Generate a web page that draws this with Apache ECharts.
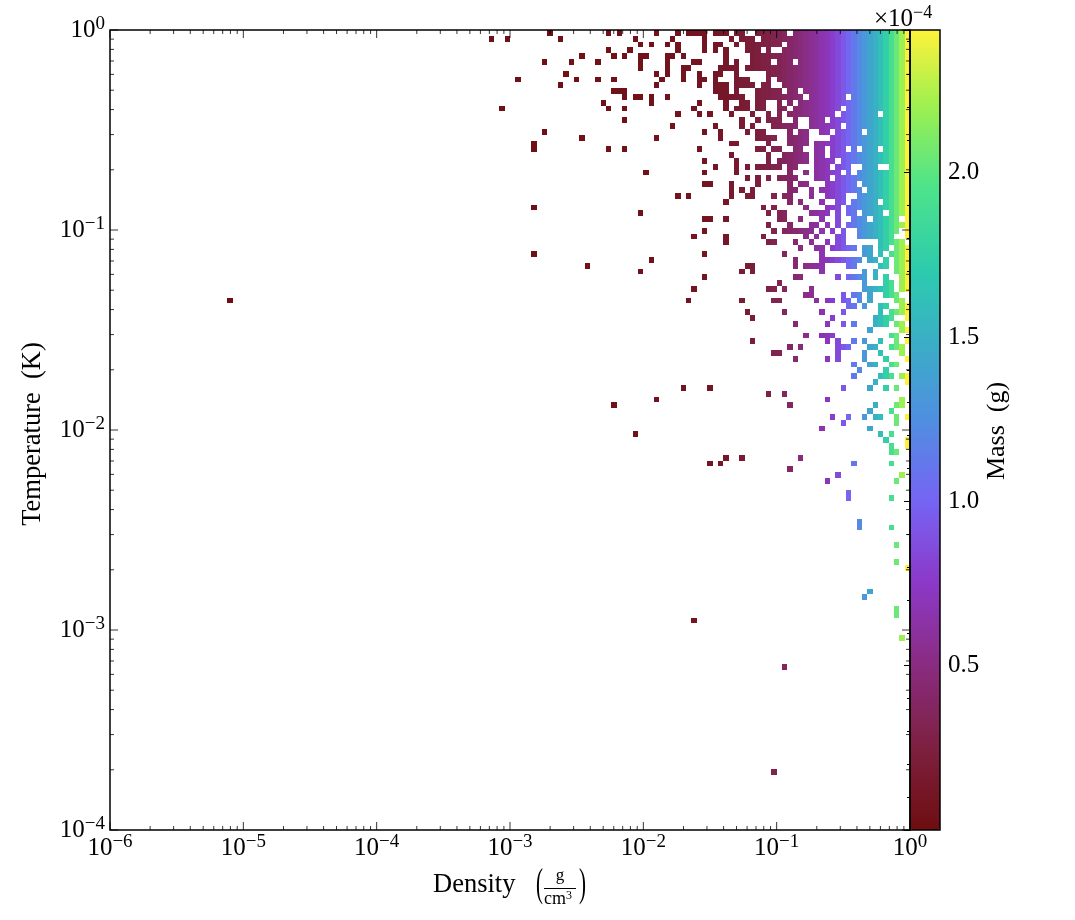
<!DOCTYPE html>
<html><head><meta charset="utf-8">
<style>html,body{margin:0;padding:0;background:#fff}#c{width:1075px;height:920px}</style>
<script src="https://cdn.jsdelivr.net/npm/echarts@6/dist/echarts.min.js"></script>
</head><body><div id="c"></div>
<script>
// Occupied density bins (column numbers) in each temperature bin (row 0 = top)
const occupiedByRow = [
"82 93 95 102 106 108-111 113-115 117-118 121-126 128-149",
"71 74 84 98 105 111 116 118-120 122-149",
"99 101 104 106 111 113-114 117 119-125 127-149",
"93 97 106 111 113 115 119-121 123 126-149",
"88 94 96 99-100 104-105 107 115 120-149",
"81 86 91 99 104 109-110 115 117 120-123 125-127 129-149",
"99 104 107-108 114-117 119-149",
"85 102 104 107 110 113-114 117 123-149",
"76 87 91 94 103 107 110-111 113 117-119 123 125-149",
"84 102 110 113-115 117-120 122-123 126-149",
"94-96 113-115 117 121-125 127-128 130-149",
"96 98-99 101 104 114-118 121-129 131-137 139-149",
"92 101 110 115 118-119 121-122 125 127 129-149",
"73 93 96 109 115 117-119 121-122 125-126 128-136 138-149",
"106 110 112 116 120 123 125 127-135 137-143 145-149",
"96 118 121 123-125 128 131-133 135-149",
"105 113 118 120 124-128 131-136 138-149",
"81 111 114 119 121-122 127 129-130 133-134 136-140 142-149",
"88 102 114 121-124 127-130 135-149",
"79 116-117 123 127-130 132-149",
"79 93 96 110 121-122 124-125 128-129 132-133 135-137 139 141-143 145-149",
"116 123 126-130 132-133 135-149",
"111 117 123 125-130 132-135 137-149",
"113 117 119 121-125 127-128 132-134 136-138 141-143 146-149",
"100 111 117 127 130 132-136 138 140-149",
"119 121 123 125-128 132-134 136-149",
"111-112 116 121 127 129-130 134-139 141-149",
"116 118 120 127-128 131 133-140 142-149",
"106 108 116 119-120 124 126-127 131 134-137 140-149",
"115 127 129 133 136-137 139-143 145-149",
"79 122 124 130 134-136 138-149",
"99 123 125-126 131-134 136 138-139 141-144 146-149",
"111-112 115 125-126 129 133 136 139-141 143-147 149",
"123 127 131-132 134 136 138-149",
"111 124 126-131 133 135 137 140-147 149",
"109 115 122 130 132 136-137 140-146 149",
"115 123-124 128 131 134 136-137 144-148",
"129 132-133 135-139 141-142 144-145 147-149",
"79 111 126 133 141-142 144 146-149",
"101 128 133-140 142-143 145 147-149",
"89 119-120 128 130-133 138-139 144-145 147-149",
"99 118 120 133 141 143 147-149",
"111 128-129 136 138-141 143 145 148-149",
"125 141 145-146 148-149",
"109 123-124 126 131 141-146 148-149",
"130-131 137 139-140 142 145-147",
"22 108 118 124-125 132 134-135 137-138 140 142 147-148",
"138-139 141 144-145 148-149",
"119 126 133 137 144 146-149",
"120 135 143-146 149",
"128 134 137 139 143-145 147-148",
"142 148-149",
"130 133-135 146-147",
"120 134 136 139 141 144 147 149",
"127 129 136-138 142-143 146-148",
"124-125 136 141 144 148",
"128 134 136 141 145 149",
"139 142-143 146-147",
"140 145",
"139 144-146 148-149",
"143 149",
"107 112 137 142 145 147",
"123 126",
"102 134 148",
"94 127 143 147-148",
"142 146",
"135 138 141 143-144 147 149",
"137 147",
"133 142",
"98 144 146",
"145 149",
"146 149",
"146-147",
"115 118 129",
"112 114 139 146",
"127",
"136 148",
"134 147",
"",
"138",
"138 146",
"","","",
"140",
"140 146",
"","",
"147",
"","",
"147",
"149",
"","","",
"142",
"141",
"",
"147",
"147",
"109",
"","",
"148",
"","","","",
"126",
"","","","","","","","","","","","","","","","","",
"124"
];
const firstMassColumn = 70;
const massByColumn = [
0.03,0.03,0.03,0.03,0.03,0.03,0.03,0.03,0.03,0.03,
0.03,0.03,0.03,0.03,0.03,0.035,0.035,0.035,0.035,0.04,
0.04,0.04,0.04,0.04,0.045,0.045,0.045,0.05,0.05,0.05,
0.055,0.055,0.06,0.06,0.065,0.065,0.07,0.07,0.075,0.08,
0.08,0.09,0.10,0.11,0.12,0.13,0.145,0.16,0.175,0.19,
0.21,0.23,0.25,0.27,0.30,0.33,0.36,0.40,0.44,0.48,
0.52,0.56,0.61,0.66,0.71,0.78,0.85,0.93,1.02,1.12,
1.22,1.32,1.42,1.50,1.60,1.75,1.90,2.05,2.20,2.43
];
const farLeftMass = 0.005;
const massMax = 2.434;
const massStops = [[0,"#6e0e10"],[0.25,"#7d2040"],[0.5,"#8a2c80"],[0.75,"#8c38c8"],[1.0,"#7664f4"],[1.25,"#4f8fe0"],[1.47,"#3bacc8"],[1.7,"#2ccbae"],[1.96,"#4fe48a"],[2.2,"#9cf050"],[2.434,"#fff23a"]];
const colorbarTicks = [0.5,1.0,1.5,2.0];
const xDecades = [1e-6,1e-5,1e-4,1e-3,1e-2,1e-1,1];
const yDecades = [1e-4,1e-3,1e-2,1e-1,1];
const minorMultipliers = [2,3,4,5,6,7,8,9];
const xBinDex = 0.04;
const yBinDex = 4/137.5;
const serif = '"Liberation Serif","DejaVu Serif",serif';

const cells = [];
occupiedByRow.forEach((s,r)=>{
  if(!s) return;
  s.split(" ").forEach(tok=>{
    const p = tok.split("-").map(Number);
    const a = p[0], b = p.length>1?p[1]:p[0];
    for(let c=a;c<=b;c++){
      const m = c>=firstMassColumn ? massByColumn[c-firstMassColumn] : farLeftMass;
      cells.push([-6+xBinDex*(c+0.5), -yBinDex*(r+0.5), m]);
    }
  });
});
function tickList(decades){
  const out=[];
  decades.forEach((d,i)=>{
    out.push([d,8]);
    if(i<decades.length-1) minorMultipliers.forEach(m=>out.push([d*m,4]));
  });
  return out;
}
const lineStyle={stroke:"#000",lineWidth:0.8};
function logLabel(v){
  const e=Math.round(Math.log10(v));
  return "{b|10}{s|"+(e<0?"\u2212"+(-e):e)+"}";
}
const richLabel={b:{fontFamily:serif,fontSize:25,color:"#000"},s:{fontFamily:serif,fontSize:19,color:"#000",padding:[0,0,11,0]}};

const option={
  animation:false,
  backgroundColor:"#fff",
  grid:[
    {left:110,top:30,width:800,height:800,show:true,borderColor:"#000",borderWidth:1.5,backgroundColor:"transparent",z:5},
    {left:910,top:30,width:30,height:800,show:true,borderColor:"#000",borderWidth:1.5,backgroundColor:"transparent",z:10}
  ],
  xAxis:[
    {type:"log",logBase:10,min:1e-6,max:1,gridIndex:0,axisLine:{show:false},axisTick:{show:false},splitLine:{show:false},
     axisLabel:{formatter:logLabel,rich:richLabel,margin:3,showMinLabel:true,showMaxLabel:true,hideOverlap:false}},
    {type:"value",min:0,max:1,gridIndex:1,show:false}
  ],
  yAxis:[
    {type:"log",logBase:10,min:1e-4,max:1,gridIndex:0,axisLine:{show:false},axisTick:{show:false},splitLine:{show:false},
     axisLabel:{formatter:logLabel,rich:richLabel,margin:5,showMinLabel:true,showMaxLabel:true,hideOverlap:false}},
    {type:"value",min:0,max:massMax,interval:0.5,gridIndex:1,position:"right",z:30,splitLine:{show:false},axisLine:{show:false},
     axisTick:{show:true,inside:true,length:6,lineStyle:{color:"#000",width:1}},
     minorTick:{show:true,splitNumber:5,length:3,lineStyle:{color:"#000",width:1}},
     axisLabel:{margin:8,color:"#000",fontFamily:serif,fontSize:25,showMinLabel:false,showMaxLabel:false,
       formatter:v=>colorbarTicks.indexOf(v)>=0?v.toFixed(1):""}}
  ],
  visualMap:{
    type:"continuous",seriesIndex:0,dimension:2,min:0,max:massMax,left:910,top:30,padding:0,itemWidth:30,itemHeight:800,
    calculable:false,text:null,showLabel:false,z:4,
    inRange:{color:(function(){const n=120,o=[];for(let i=0;i<=n;i++){const v=massMax*i/n;let j=0;while(j<massStops.length-2&&v>massStops[j+1][0])j++;
      const A=massStops[j],B=massStops[j+1],t=(v-A[0])/(B[0]-A[0]);
      const h=x=>[1,3,5].map(k=>parseInt(x.substr(k,2),16));const a=h(A[1]),b=h(B[1]);
      o.push("rgb("+a.map((q,k)=>Math.round(q+(b[k]-q)*t)).join(",")+")");}return o;})()}
  },
  series:[
    {type:"custom",xAxisIndex:0,yAxisIndex:0,silent:true,z:2,clip:true,
     data:cells.map(d=>[Math.pow(10,d[0]),Math.pow(10,d[1]),d[2],d[0],d[1]]),
     encode:{x:0,y:1},
     renderItem:function(p,api){
       const lx=api.value(3),ly=api.value(4);
       const a=api.coord([Math.pow(10,lx-xBinDex/2),Math.pow(10,ly+yBinDex/2)]);
       const b=api.coord([Math.pow(10,lx+xBinDex/2),Math.pow(10,ly-yBinDex/2)]);
       const x0=Math.round(a[0]),x1=Math.round(b[0]),y0=Math.round(a[1]),y1=Math.round(b[1]);
       return {type:"rect",shape:{x:x0,y:y0,width:x1-x0,height:y1-y0},style:{fill:api.visual("color")}};
     }},
    {type:"custom",xAxisIndex:0,yAxisIndex:0,silent:true,z:6,clip:false,
     data:tickList(xDecades).map(t=>[t[0],1e-4,t[1]]),encode:{x:0,y:1},
     renderItem:function(p,api){
       const v=api.value(0),l=api.value(2);
       const a=api.coord([v,1e-4]),b=api.coord([v,1]);
       return {type:"group",children:[
         {type:"line",shape:{x1:a[0],y1:a[1],x2:a[0],y2:a[1]-l},style:lineStyle},
         {type:"line",shape:{x1:b[0],y1:b[1],x2:b[0],y2:b[1]+l},style:lineStyle}]};
     }},
    {type:"custom",xAxisIndex:0,yAxisIndex:0,silent:true,z:6,clip:false,
     data:tickList(yDecades).map(t=>[1e-6,t[0],t[1]]),encode:{x:0,y:1},
     renderItem:function(p,api){
       const v=api.value(1),l=api.value(2);
       const a=api.coord([1e-6,v]),b=api.coord([1,v]);
       return {type:"group",children:[
         {type:"line",shape:{x1:a[0],y1:a[1],x2:a[0]+l,y2:a[1]},style:lineStyle},
         {type:"line",shape:{x1:b[0],y1:b[1],x2:b[0]-l,y2:b[1]},style:lineStyle}]};
     }}
  ],
  graphic:[
    {type:"text",left:874,top:4,z:20,style:{text:"\u00d710{e|\u22124}",fontFamily:serif,fontSize:25,fill:"#000",rich:{e:{fontFamily:serif,fontSize:18,padding:[0,0,12,0]}}}},
    {type:"text",x:33,y:434,rotation:Math.PI/2,z:20,style:{text:"Temperature  (K)",fontFamily:serif,fontSize:26.5,fill:"#000",align:"center",verticalAlign:"middle"}},
    {type:"text",x:997,y:431,rotation:Math.PI/2,z:20,style:{text:"Mass  (g)",fontFamily:serif,fontSize:26,fill:"#000",align:"center",verticalAlign:"middle"}},
    {type:"text",x:433,y:885,z:20,style:{text:"Density",fontFamily:serif,fontSize:26.5,fill:"#000",align:"left",verticalAlign:"middle"}},
    {type:"text",x:543,y:886,scaleX:1,scaleY:1.9,z:20,style:{text:"(",fontFamily:serif,fontSize:21,fill:"#000",align:"right",verticalAlign:"middle"}},
    {type:"text",x:579,y:886,scaleX:1,scaleY:1.9,z:20,style:{text:")",fontFamily:serif,fontSize:21,fill:"#000",align:"left",verticalAlign:"middle"}},
    {type:"text",x:560,y:876,z:20,style:{text:"g",fontFamily:serif,fontSize:17,fill:"#000",align:"center",verticalAlign:"middle"}},
    {type:"rect",shape:{x:544,y:888,width:32,height:1},style:{fill:"#000"},z:20},
    {type:"text",x:544,y:899,z:20,style:{text:"cm{e|3}",fontFamily:serif,fontSize:18,fill:"#000",align:"left",verticalAlign:"middle",rich:{e:{fontFamily:serif,fontSize:12,padding:[0,0,6,0]}}}}
  ]
};
echarts.init(document.getElementById("c"),null,{renderer:"canvas"}).setOption(option);
</script></body></html>
